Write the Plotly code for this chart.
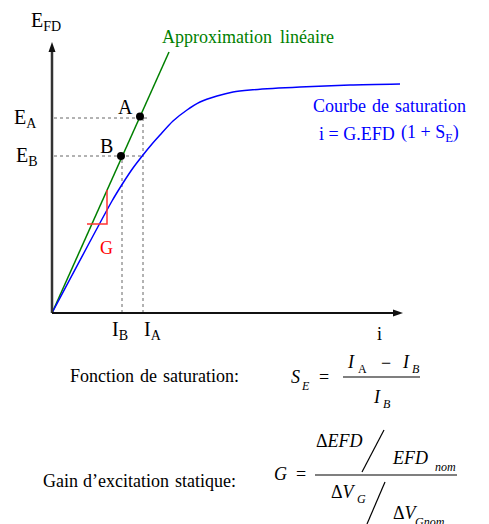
import plotly.graph_objects as go

# ---- data (arbitrary units, origin at the axes corner) ----
sat_i = [0, 60, 71, 81, 91, 100, 108, 121, 135, 148, 165, 181, 198, 248, 298, 348]
sat_efd = [0, 112, 130, 145, 158, 169, 178, 192, 203, 211, 217, 221, 223, 226, 228, 229]
lin_i = [0, 117]
lin_efd = [0, 261]
pts_names = ["A", "B"]
pts_i = [88, 69]
pts_efd = [196.5, 157]
I_A, I_B = 91, 70
E_A, E_B = 195, 157
gain_i = [35, 55, 55]
gain_efd = [89, 89, 123]

OX, OY = 52, 313      # screen pixel position of the axes origin
PAD = 8               # default page margin around the figure
W, H = 489 - PAD, 524 - PAD
SERIF = "Liberation Serif"

fig = go.Figure()

# dotted guide lines
guide_x = [[2, 96], [2, 91], [I_B, I_B], [I_A, I_A]]
guide_y = [[E_A, E_A], [E_B, E_B], [0, E_B], [0, 198]]
for gx, gy in zip(guide_x, guide_y):
    fig.add_trace(go.Scatter(x=gx, y=gy, mode="lines",
                             line=dict(color="#666666", width=1, dash="dot"),
                             hoverinfo="skip"))

fig.add_trace(go.Scatter(x=lin_i, y=lin_efd, mode="lines",
                         line=dict(color="#008000", width=1.5), hoverinfo="skip"))
fig.add_trace(go.Scatter(x=sat_i, y=sat_efd, mode="lines",
                         line=dict(color="#0000ff", width=1.5, shape="spline", smoothing=0.7),
                         hoverinfo="skip"))
fig.add_trace(go.Scatter(x=gain_i, y=gain_efd, mode="lines",
                         line=dict(color="#ff3333", width=1.5), hoverinfo="skip"))
fig.add_trace(go.Scatter(x=pts_i, y=pts_efd, mode="markers",
                         marker=dict(color="black", size=8), hoverinfo="skip"))

# axes with arrows
fig.add_shape(type="line", x0=0, y0=0, x1=0, y1=264, line=dict(color="#333333", width=2.5))
fig.add_shape(type="path", path="M 0 271 L -3.5 261 L 3.5 261 Z",
              fillcolor="#111111", line=dict(width=0))
fig.add_shape(type="line", x0=0, y0=0, x1=344, y1=0, line=dict(color="#111111", width=2))
fig.add_shape(type="path", path="M 351 0 L 341 -3.5 L 341 3.5 Z",
              fillcolor="#111111", line=dict(width=0))


def px_line(x0, y0, x1, y1, width=1.2, color="black"):
    fig.add_shape(type="line", x0=x0 - OX, y0=OY - y0, x1=x1 - OX, y1=OY - y1,
                  line=dict(color=color, width=width))


def txt(s, x, base, size=18, color="black", xanchor="left", italic=False):
    if italic:
        s = "<i>" + s + "</i>"
    fig.add_annotation(x=x - OX, y=OY - (base - 0.34 * size), text=s,
                       xanchor=xanchor, yanchor="middle", showarrow=False,
                       font=dict(family=SERIF, size=size, color=color))


def words(items, base, size=18, color="black"):
    for w, cx in items:
        txt(w, cx, base, size, color, "center")


# chart labels
txt("E<sub>FD</sub>", 29, 28, 20)
words([("Approximation", 217), ("linéaire", 307)], 43, 18, "#008000")
txt("E<sub>A</sub>", 12, 125, 20)
txt("E<sub>B</sub>", 14, 163, 20)
for name, xi, yi in zip(pts_names, pts_i, pts_efd):
    txt(name, xi + OX - 15, OY - yi - 3, 20, xanchor="center")
words([("Courbe", 339), ("de", 380), ("saturation", 430)], 112, 18, "#0000ff")
words([("i = G.EFD", 357), ("(1 + S<sub>E</sub>)", 430)], 140, 18, "#0000ff")
txt("G", 106, 254, 18, "#ff0000", "center")
txt("I<sub>B</sub>", 110, 337, 20)
txt("I<sub>A</sub>", 142, 337, 20)
txt("i", 379, 340, 18, xanchor="center")

# saturation function
words([("Fonction", 102), ("de", 148), ("saturation:", 201)], 382)
txt("S", 295, 383, 18, xanchor="center", italic=True)
txt("E", 305, 390, 12, xanchor="center", italic=True)
txt("=", 324, 383, 18, xanchor="center")
txt("I", 351, 368, 18, xanchor="center", italic=True)
txt("A", 362, 373, 12, xanchor="center")
txt("\u2212", 386, 369, 18, xanchor="center")
txt("I", 406, 368, 18, xanchor="center", italic=True)
txt("B", 416, 373, 12, xanchor="center", italic=True)
px_line(343, 377, 420, 377, 1.2)
txt("I", 377, 403, 18, xanchor="center", italic=True)
txt("B", 387, 408, 12, xanchor="center", italic=True)

# static gain
words([("Gain", 60), ("d\u2019excitation", 126), ("statique:", 205)], 487)
txt("G", 280, 480, 18, xanchor="center", italic=True)
txt("=", 301, 480, 18, xanchor="center")
px_line(315, 475, 457, 475, 1.2)
txt("\u0394<i>EFD</i>", 339, 447, 18, xanchor="center")
px_line(362, 472, 384, 430, 1.2)
txt("EFD", 410, 464, 18, xanchor="center", italic=True)
txt("nom", 445, 471, 12, xanchor="center", italic=True)
txt("\u0394<i>V</i>", 343, 498, 18, xanchor="center")
txt("G", 361, 503, 12, xanchor="center", italic=True)
px_line(367, 524, 385, 482, 1.2)
txt("\u0394<i>V</i>", 405, 519, 18, xanchor="center")
txt("Gnom", 430, 526, 12, xanchor="center", italic=True)

fig.update_layout(
    width=W, height=H,
    margin=dict(l=0, r=0, t=0, b=0),
    paper_bgcolor="white", plot_bgcolor="white",
    showlegend=False,
    xaxis=dict(range=[-(OX - PAD), W - (OX - PAD)], visible=False, fixedrange=True),
    yaxis=dict(range=[(OY - PAD) - H, OY - PAD], visible=False, fixedrange=True),
)

fig.write_html("out.html")
